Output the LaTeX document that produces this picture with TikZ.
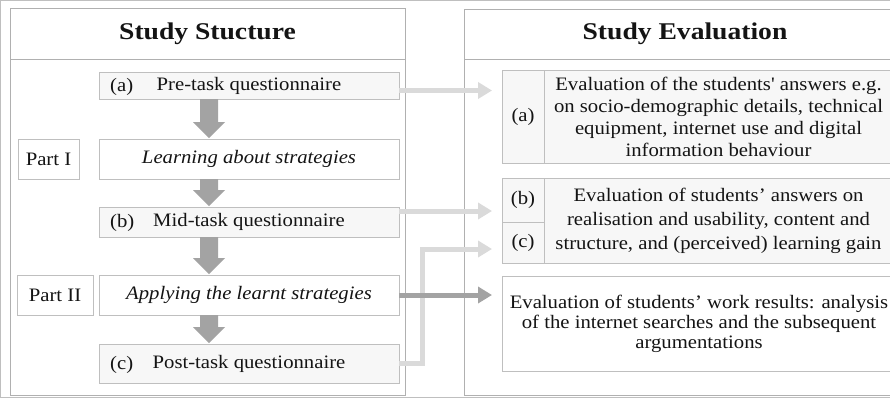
\documentclass[tikz,border=0pt]{standalone}
\usepackage{fontspec}
\setmainfont{Liberation Serif}[FakeStretch=1.15]
\newfontfamily\bodyf{Liberation Serif}[FakeStretch=1.09]
\newfontfamily\titlef{Liberation Serif}[FakeStretch=1.15]
\usetikzlibrary{arrows.meta,calc}
\definecolor{boxline}{HTML}{BFBFBF}
\definecolor{panelline}{HTML}{B0B0B0}
\definecolor{boxfill}{HTML}{F7F7F7}
\definecolor{downcol}{HTML}{A3A3A3}
\definecolor{lightcol}{HTML}{DADADA}
\definecolor{darkcol}{HTML}{A3A3A3}
\definecolor{txt}{HTML}{141414}
\newcommand\downarr[2]{%
  \fill[downcol] ($(#1.south)+(-49,0)$) -- ++(18,0) -- ($(#2.north)+(-31,-17)$) -- ++(7,0)
    -- ($(#2.north)+(-40,-1)$) -- ($(#2.north)+(-56,-17)$) -- ++(7,0) -- cycle;}
\begin{document}
\begin{tikzpicture}[x=1pt,y=-1pt,
  every node/.style={text=txt},
  panel/.style={draw=panelline, line width=1pt, anchor=north west, inner sep=0pt, outer sep=0pt},
  box/.style={draw=boxline, line width=1pt, anchor=north west, inner sep=0pt, outer sep=0pt,
    font=\bodyf\fontsize{19}{22}\selectfont, align=center},
  grey/.style={box, fill=boxfill},
  white/.style={box, fill=white},
  lbl/.style={anchor=west, inner sep=0pt, font=\bodyf\fontsize{19}{22}\selectfont},
  ttl/.style={font=\titlef\bfseries\fontsize{24}{28}\selectfont, inner sep=0pt},
  lightarrow/.style={draw=lightcol, line width=5pt, line join=miter, -{Triangle[length=14pt,width=16pt]}},
  darkarrow/.style={draw=darkcol, line width=5pt, -{Triangle[length=14pt,width=16pt]}}
]
\useasboundingbox (0,0) rectangle (890,397);
\clip (0,0) rectangle (890,397);
\fill[white] (0,0) rectangle (890,397);

% left panel
\node[panel, minimum width=395pt, minimum height=387pt] (lp) at (10,8) {};
\draw[panelline, line width=1pt] (lp.west |- 0,59) -- (lp.east |- 0,59);
\node[ttl] (lt) at (207.5,34) {Study Stucture};

\node[grey, minimum width=300pt, minimum height=27pt] (pre) at (99,72) {Pre-task questionnaire};
\node[lbl] (prel) at ($(pre.west)+(11,1)$) {(a)};
\node[white, minimum width=300pt, minimum height=40pt, font=\bodyf\itshape\fontsize{19}{22}\selectfont] (learn) at (99,139) {Learning about strategies};
\node[white, minimum width=61pt, minimum height=40pt] (p1) at (18,139) {Part I};
\node[grey, minimum width=300pt, minimum height=30pt] (mid) at (99,207) {Mid-task questionnaire};
\node[lbl] (midl) at ($(mid.west)+(11,1)$) {(b)};
\node[white, minimum width=300pt, minimum height=40pt, font=\bodyf\itshape\fontsize{19}{22}\selectfont] (app) at (99,275) {Applying the learnt strategies};
\node[white, minimum width=76pt, minimum height=40pt] (p2) at (17,275) {Part II};
\node[grey, minimum width=300pt, minimum height=39pt] (post) at (99,344) {Post-task questionnaire};
\node[lbl] (postl) at ($(post.west)+(11,1)$) {(c)};

\downarr{pre}{learn}
\downarr{learn}{mid}
\downarr{mid}{app}
\downarr{app}{post}

% right panel
\node[panel, minimum width=442pt, minimum height=386pt] (rp) at (464,9) {};
\draw[panelline, line width=1pt] (rp.west |- 0,59) -- (rp.east |- 0,59);
\node[ttl] (rt) at (685,34) {Study Evaluation};

\node[grey, minimum width=42pt, minimum height=93pt] (alab) at (502,70) {(a)};
\node[grey, minimum width=349pt, minimum height=93pt] (atext) at (544,70)
  {Evaluation of the students' answers e.g.\\ on socio-demographic details, technical\\ equipment, internet use and digital\\ information behaviour};

\node[grey, minimum width=42pt, minimum height=44pt] (blab) at (502,178) {(b)};
\node[grey, minimum width=42pt, minimum height=41pt] (clab) at (502,222) {(c)};
\node[grey, minimum width=349pt, minimum height=85pt, font=\bodyf\fontsize{19}{24}\selectfont] (bctext) at (544,178)
  {Evaluation of students’ answers on\\ realisation and usability, content and\\ structure, and (perceived) learning gain};

\node[white, minimum width=394pt, minimum height=95pt, font=\bodyf\fontsize{19}{20}\selectfont] (work) at (502,276)
  {Evaluation of students’ work results: analysis\\ of the internet searches and the subsequent\\ argumentations};

% connectors
\draw[lightarrow] ($(pre.east)+(0,5)$) -- ($(alab.west |- pre.east)+(-10,5)$);
\draw[lightarrow] ($(mid.east)+(0,-11)$) -- ($(blab.west)+(-10,11)$);
\draw[lightarrow] (post.east) -| ($(clab.west)+(-80,6.5)$) -- ($(clab.west)+(-10,6.5)$);
\draw[darkarrow] (app.east) -- ($(work.west |- app.east)+(-10,0)$);
\end{tikzpicture}
\end{document}
